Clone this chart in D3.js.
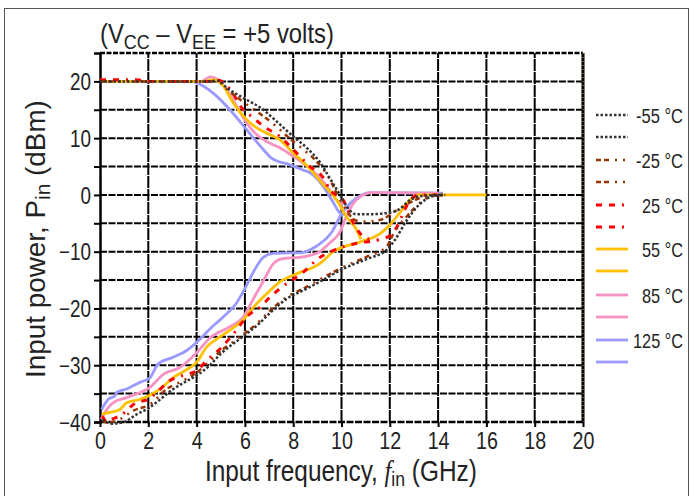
<!DOCTYPE html>
<html><head><meta charset="utf-8">
<script src="https://cdn.jsdelivr.net/npm/d3@7"></script>
<style>
body{margin:0;background:#fff;}
svg text{font-family:"Liberation Sans",Arial,sans-serif;fill:#222;}
</style></head>
<body><svg id="c" width="695" height="496"></svg>
<script>
// ---------- data ----------
const temps = ["-55 °C","-25 °C","25 °C","55 °C","85 °C","125 °C"];
const xTicks = [0,2,4,6,8,10,12,14,16,18,20];
const yTicks = [-40,-30,-20,-10,0,10,20];

// upper (max input power) curves, [GHz, dBm]
const upperM55 = [[0,20],[4.5,20],[4.9,20.1],[5.24,18.9],[5.93,17.1],[6.76,15],[7.3,13],[8.0,10.3],[8.56,8.3],[9.1,5.8],[9.52,2.9],[9.94,0],[10.3,-2.5],[10.6,-3.4],[11.2,-3.4],[12.0,-3.1],[12.4,-2.5],[12.8,-1],[13.3,-0.2],[14.2,0]];
const lowerM55 = [[0.1,-39.6],[0.5,-40.3],[1.0,-40],[1.5,-38.7],[2.0,-37.6],[2.5,-36],[3.0,-34.3],[3.5,-33],[4.0,-31.8],[4.5,-30.2],[5.0,-28],[5.8,-25.3],[6.5,-23],[7.04,-20.8],[7.73,-18.3],[8.42,-16.8],[9.1,-15.3],[10.07,-13],[11.04,-11.3],[11.87,-9.7],[12.2,-8],[12.7,-4.5],[13.2,-1.8],[13.8,-0.2],[14.3,0]];
const upperM25 = [[0,20],[4.5,20],[4.9,20.1],[5.1,19.2],[5.8,16.8],[6.49,14.7],[7.04,13],[7.87,9.9],[8.42,8],[8.97,5.9],[9.52,2.7],[9.8,0.3],[10.1,-2],[10.6,-4.5],[11.0,-4.7],[11.6,-4.4],[12.3,-2.7],[13.0,-1],[13.5,-0.2],[14.2,0]];
const lowerM25 = [[0.1,-39.8],[0.3,-40.1],[0.83,-39.5],[1.38,-38],[2.07,-36.9],[2.76,-34.2],[3.45,-32.7],[4.0,-31.3],[4.41,-29.8],[5.0,-27.5],[5.8,-25],[6.49,-22.7],[7.04,-20.4],[7.73,-18],[8.42,-16.5],[9.1,-14.9],[10.07,-12.7],[11.04,-10.9],[11.87,-9.1],[12.15,-6.8],[12.7,-3.8],[13.4,-0.9],[13.8,0],[14.2,0]];
const upperP25 = [[0,20.3],[1.5,20.3],[2,20],[4.6,20],[4.9,20.2],[5.38,18.6],[5.93,15],[6.35,13.6],[6.76,12.1],[7.45,10.3],[8.0,8],[8.7,5],[9.25,3],[9.52,0.9],[10.07,-0.9],[10.5,-5],[11.0,-7.6],[11.45,-8.0]];
const lowerP25 = [[0.1,-39],[0.3,-40],[0.5,-39.5],[0.83,-38.9],[1.5,-36.6],[2.0,-36],[2.34,-34.8],[2.9,-32.7],[3.59,-31.6],[4.0,-31],[4.41,-29.2],[5.0,-27],[5.52,-24.5],[6.14,-21.2],[6.62,-19.8],[7.04,-18],[7.45,-16.5],[8.42,-13.6],[9.04,-11.2],[9.66,-9.8],[10.63,-8.5],[11.45,-8.0],[12.0,-7.2],[12.3,-5.6],[12.56,-3.2],[12.84,-0.9],[13.25,0],[14,0]];
const upperP55 = [[0,20],[4.3,20],[4.7,20.3],[5.1,19.2],[5.52,16.2],[6.07,13.3],[6.49,11.8],[7.04,10.6],[7.45,9.7],[8.0,7.4],[8.6,5],[9.25,1.8],[9.8,-0.9],[10.2,-3.8],[10.63,-6.2],[10.8,-7.8]];
const lowerP55 = [[0.07,-38.6],[0.41,-38.3],[0.83,-37.8],[1.1,-36.6],[1.66,-36],[2.0,-35.4],[2.48,-34.2],[3.03,-32.2],[3.73,-30.4],[4.0,-29.5],[4.41,-26.8],[4.83,-25.4],[5.38,-23.8],[5.93,-22],[6.35,-19.8],[6.9,-17.4],[7.45,-15.3],[8.14,-13.9],[9.1,-12.1],[9.66,-10],[10.77,-8.3],[11.6,-6.8],[12.0,-5.3],[12.4,-3.2],[12.84,-0.9],[13.2,0],[16,0]];
const upperP85 = [[0,20],[4.2,20],[4.55,20.8],[4.97,20],[5.24,18.6],[5.66,15.6],[6.07,12.7],[6.49,10.6],[6.9,9.4],[7.45,8.3],[8.0,6.8],[8.6,5],[9.0,3.5],[9.4,1.5],[9.8,-0.9],[10.07,-1.8]];
const lowerP85 = [[0.05,-39.5],[0.28,-37.8],[0.55,-36.6],[1.1,-35.7],[1.66,-34.8],[2.07,-33.9],[2.62,-31.6],[3.31,-30.4],[4.0,-27.8],[4.55,-25.2],[5.38,-23.2],[5.93,-21.5],[6.35,-18.3],[6.76,-15.2],[7.18,-12.1],[7.59,-11.2],[8.28,-11],[9.1,-10],[9.5,-8.5],[9.94,-6.5],[10.2,-3.8],[10.49,-1.5],[10.9,0],[11.3,0.4],[14,0.3]];
const upperP125 = [[0,20],[3.5,20],[3.8,20],[4.14,19.5],[4.83,17.4],[5.38,15],[6.07,11.5],[6.76,8],[7.1,6.5],[7.87,5.3],[8.4,4.4],[8.7,3.9],[9.23,1.6],[9.65,-1.3],[9.94,-3.2],[10.1,-3.5]];
const lowerP125 = [[0.07,-37.8],[0.34,-36],[0.62,-35.4],[0.69,-34.8],[1.1,-34.2],[1.66,-33],[2.07,-32.2],[2.4,-29.8],[3.03,-28.6],[3.59,-27.4],[4.07,-25.7],[4.55,-23.6],[5.1,-21.5],[5.66,-19],[6.0,-16.5],[6.35,-13.6],[6.76,-11],[7.18,-10.3],[7.87,-10.2],[8.28,-10.2],[8.97,-9],[9.65,-6.2],[9.94,-3.8],[10.35,-1.5],[10.83,0],[11.2,0.4],[14.2,0.3]];

const uppers = [upperM55,upperM25,upperP25,upperP55,upperP85,upperP125];
const lowers = [lowerM55,lowerM25,lowerP25,lowerP55,lowerP85,lowerP125];

// ---------- styles ----------
const colors = ["#333333","#993300","#ff0000","#ffc000","#f792c4","#9999ff"];
const dashes = ["2.5,2","5,3,5,6,2,6,2,5","6,7,6,7,2,7",null,null,null];
const widths = [2.5,2.5,3,2.8,2.8,2.8];
const order = [5,4,3,2,1,0];
const K = 0.82; // horizontal condensing of the text face

const svg = d3.select("#c");
const x = d3.scaleLinear().domain([0,20]).range([100,583]);
const y = d3.scaleLinear().domain([-40,25]).range([422,53]);

// fit a text element to a target width by horizontal scaling
function fit(sel, tx, ty, target, rot){
  const w = sel.node().getComputedTextLength();
  const k = target / w;
  sel.attr("x",0).attr("y",0)
     .attr("transform",`translate(${tx},${ty}) rotate(${rot||0}) scale(${k},1)`);
}

// outer frame
svg.append("rect").attr("x",4.5).attr("y",8.5).attr("width",684).attr("height",500)
  .attr("fill","none").attr("stroke","#555").attr("stroke-width",1);

// grid
const g = svg.append("g");
g.selectAll(".hg").data(d3.range(-35,25,5)).join("line")
  .attr("x1",x(0)).attr("x2",x(20)).attr("y1",d=>y(d)).attr("y2",d=>y(d))
  .attr("stroke","#000").attr("stroke-width",2).attr("stroke-dasharray","7,1.5");
g.selectAll(".vg").data(d3.range(2,20,2)).join("line")
  .attr("y1",y(-40)).attr("y2",y(25)).attr("x1",d=>x(d)).attr("x2",d=>x(d))
  .attr("stroke","#000").attr("stroke-width",2).attr("stroke-dasharray","12,1");

// border
svg.append("line").attr("x1",x(0)).attr("x2",x(20)).attr("y1",y(25)).attr("y2",y(25))
  .attr("stroke","#000").attr("stroke-width",2.5).attr("stroke-dasharray","5,1.5");
svg.append("line").attr("x1",x(20)).attr("x2",x(20)).attr("y1",y(25)).attr("y2",y(-40))
  .attr("stroke","#000").attr("stroke-width",3);
svg.append("line").attr("x1",x(20)).attr("x2",x(20)).attr("y1",y(25)).attr("y2",y(-40))
  .attr("stroke","#f0a000").attr("stroke-width",1).attr("stroke-dasharray","1,3");
svg.append("line").attr("x1",x(0)).attr("x2",x(20)).attr("y1",y(-40)).attr("y2",y(-40))
  .attr("stroke","#000").attr("stroke-width",2.5).attr("stroke-dasharray","7,1.5");

// axes
const yAxis = d3.axisLeft(y).tickValues(d3.range(-40,25,5)).tickSize(6)
  .tickFormat(d=> yTicks.includes(d) ? (d<0 ? "\u2212"+Math.abs(d) : String(d)) : "");
const ya = svg.append("g").attr("transform",`translate(${x(0)},0)`).call(yAxis);
ya.select(".domain").attr("stroke","#000").attr("stroke-width",2.5);
ya.selectAll(".tick line").attr("stroke","#000").attr("stroke-width",2);
ya.selectAll(".tick text").attr("font-size",23).attr("x",-9/K).attr("dy","0.36em")
  .attr("transform",`scale(${K},1)`)
  .style("font-family",'"Liberation Sans",Arial,sans-serif').attr("fill","#222");

const xAxis = d3.axisBottom(x).tickValues(xTicks).tickSize(5);
const xa = svg.append("g").attr("transform",`translate(0,${y(-40)})`).call(xAxis);
xa.select(".domain").remove();
xa.selectAll(".tick line").attr("stroke","#000").attr("stroke-width",2);
xa.selectAll(".tick text").attr("font-size",24).attr("y",10).attr("dy","0.71em")
  .attr("transform",`scale(${K},1)`)
  .style("font-family",'"Liberation Sans",Arial,sans-serif').attr("fill","#222");

// curves
const line = d3.line().x(d=>x(d[0])).y(d=>y(d[1])).curve(d3.curveMonotoneX);
const cg = svg.append("g");
order.forEach(i=>{
  [lowers[i],uppers[i]].forEach(s=>{
    cg.append("path").attr("d",line(s)).attr("fill","none")
      .attr("stroke",colors[i]).attr("stroke-width",widths[i])
      .attr("stroke-dasharray",dashes[i]).attr("stroke-linejoin","round");
  });
});

// legend
const legY = [115,160,205,249,295,340];
const legW = [47,47,41,41,41,50];
const lg = svg.append("g");
temps.forEach((t,i)=>{
  [0,22].forEach(off=>{
    lg.append("line").attr("x1",596).attr("x2",628).attr("y1",legY[i]+off).attr("y2",legY[i]+off)
      .attr("stroke",colors[i]).attr("stroke-width",widths[i]).attr("stroke-dasharray",dashes[i]);
  });
  const tx = lg.append("text").attr("dy","0.36em").attr("font-size",21).text(t);
  fit(tx, 683-legW[i], legY[i], legW[i]);
});

// title
const tt = svg.append("text").attr("font-size",28);
tt.append("tspan").text("(V");
tt.append("tspan").attr("font-size",21).attr("dy",6).text("CC");
tt.append("tspan").attr("dy",-6).text(" \u2013 V");
tt.append("tspan").attr("font-size",21).attr("dy",6).text("EE");
tt.append("tspan").attr("dy",-6).text(" = +5 volts)");
fit(tt, 100, 43, 234);

// x title
const xt = svg.append("text").attr("font-size",29);
xt.append("tspan").text("Input frequency, ");
xt.append("tspan").style("font-family",'"Liberation Serif","DejaVu Serif",serif').style("font-style","italic").text("f");
xt.append("tspan").attr("font-size",21).attr("dy",5).text("in");
xt.append("tspan").attr("dy",-5).text(" (GHz)");
fit(xt, 205, 481, 272);

// y title
const yt = svg.append("text").attr("font-size",28);
yt.append("tspan").text("Input power, P");
yt.append("tspan").attr("font-size",21).attr("dy",5).text("in");
yt.append("tspan").attr("dy",-5).text(" (dBm)");
fit(yt, 45, 378, 278, -90);
</script></body></html>
